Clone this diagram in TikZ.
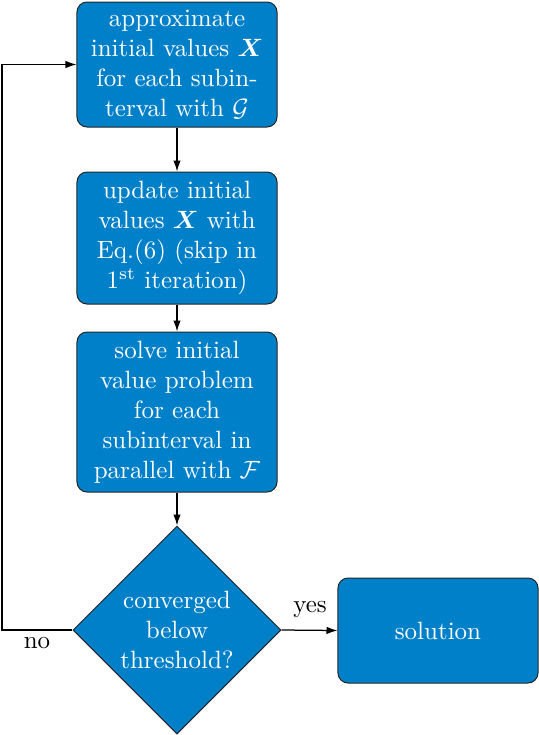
\documentclass[tikz,border=0pt]{standalone}
\usepackage{amsmath,amssymb}
\usetikzlibrary{shapes.geometric,arrows.meta}
\definecolor{boxblue}{RGB}{0,128,200}
\begin{document}
\begin{tikzpicture}[x=0.4pt,y=-0.4pt,
  procbox/.style={draw=black!85,line width=0.4pt,fill=boxblue,rounded corners=4pt,
    text=white,align=center,minimum width=80pt,inner sep=0pt},
  decbox/.style={draw=black!85,line width=0.4pt,fill=boxblue,diamond,
    text=white,align=center,minimum width=83.2pt,minimum height=83.2pt,inner sep=0pt},
  conn/.style={line width=0.5pt,-{Latex[length=4.4pt,width=3pt]}},
  lbl/.style={text=black}]
\useasboundingbox (0,0) rectangle (539,735);
\node[procbox,minimum height=50pt] (b1) at (177,64.5)
  {approximate\\initial values $\boldsymbol{X}$\\for each subin-\\terval with $\mathcal{G}$};
\node[procbox,minimum height=52.8pt] (b2) at (177,238)
  {update initial\\values $\boldsymbol{X}$ with\\Eq.(6) (skip in\\1\textsuperscript{st} iteration)};
\node[procbox,minimum height=64pt] (b3) at (177,412)
  {solve initial\\value problem\\for each\\subinterval in\\parallel with $\mathcal{F}$};
\node[decbox] (d) at (177,630) {converged\\below\\threshold?};
\node[procbox,minimum height=42pt] (sol) at (438,630.5) {solution};
\coordinate (c1) at (2,630);
\coordinate (c2) at (2,64.5);
\draw[conn] (b1) -- (b2);
\draw[conn] (b2) -- (b3);
\draw[conn] (b3) -- (d);
\draw[conn] (d.east) -- (sol.west);
\draw[conn] (d.west) -- (c1) -- (c2) -- (b1.west);
\node[lbl] (yes) at (310,609) {yes};
\node[lbl] (no) at (37,643) {no};
\end{tikzpicture}
\end{document}
